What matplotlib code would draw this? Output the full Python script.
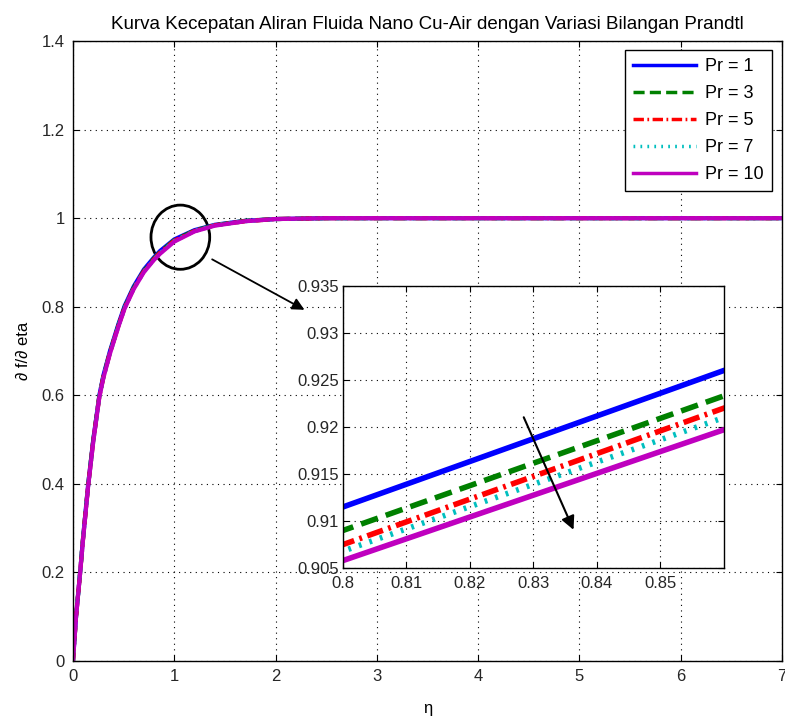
import matplotlib
matplotlib.use("Agg")
import matplotlib.pyplot as plt
from matplotlib.patches import Ellipse

plt.rcParams['font.family'] = ['Liberation Sans', 'DejaVu Sans']

# data
eta = [0.0, 0.03, 0.07, 0.1, 0.15, 0.2, 0.26, 0.3, 0.365, 0.45, 0.51, 0.6, 0.7, 0.8, 0.86,
       1.0, 1.2, 1.4, 1.7, 2.0, 2.5, 3.0, 4.0, 5.0, 6.0, 7.0]
pr_labels = ['Pr = 1', 'Pr = 3', 'Pr = 5', 'Pr = 7', 'Pr = 10']
pr1 = [0.0, 0.10, 0.20, 0.28, 0.40, 0.50, 0.60, 0.645, 0.70, 0.762, 0.802, 0.846, 0.884, 0.9115, 0.9260,
       0.952, 0.973, 0.985, 0.994, 0.998, 1.0, 1.0, 1.0, 1.0, 1.0, 1.0]
pr3 = [0.0, 0.10, 0.199, 0.279, 0.398, 0.498, 0.598, 0.642, 0.697, 0.759, 0.799, 0.843, 0.881, 0.9090, 0.9233,
       0.950, 0.972, 0.984, 0.994, 0.998, 1.0, 1.0, 1.0, 1.0, 1.0, 1.0]
pr5 = [0.0, 0.10, 0.198, 0.278, 0.397, 0.497, 0.597, 0.641, 0.696, 0.758, 0.798, 0.842, 0.880, 0.9075, 0.9220,
       0.949, 0.971, 0.984, 0.993, 0.998, 1.0, 1.0, 1.0, 1.0, 1.0, 1.0]
pr7 = [0.0, 0.10, 0.198, 0.277, 0.396, 0.496, 0.596, 0.640, 0.695, 0.757, 0.797, 0.841, 0.879, 0.9068, 0.9210,
       0.948, 0.971, 0.984, 0.993, 0.998, 1.0, 1.0, 1.0, 1.0, 1.0, 1.0]
pr10 = [0.0, 0.10, 0.197, 0.276, 0.395, 0.495, 0.595, 0.639, 0.694, 0.756, 0.796, 0.840, 0.878, 0.9058, 0.9197,
        0.947, 0.970, 0.983, 0.993, 0.998, 1.0, 1.0, 1.0, 1.0, 1.0, 1.0]
series = [pr1, pr3, pr5, pr7, pr10]
colors = ['#0000ff', '#008000', '#ff0000', '#00bfbf', '#bf00bf']
dash_patterns = [None, (3.2, 1.5), (3, 1, 0.5, 1), (0.5, 1.5), None]

x_ticks = [0, 1, 2, 3, 4, 5, 6, 7]
y_ticks = [0, 0.2, 0.4, 0.6, 0.8, 1, 1.2, 1.4]
y_tick_labels = ['0', '0.2', '0.4', '0.6', '0.8', '1', '1.2', '1.4']
in_x_ticks = [0.8, 0.81, 0.82, 0.83, 0.84, 0.85]
in_y_ticks = [0.905, 0.91, 0.915, 0.92, 0.925, 0.93, 0.935]

fig = plt.figure(figsize=(7.85, 7.2), dpi=100)
ax = fig.add_axes([0.093, 0.082, 0.903, 0.861])


def matlab_style(a, fs):
    a.grid(True, linestyle=(0, (1, 4)), color='black', linewidth=0.8)
    a.tick_params(direction='in', length=4, width=0.8, labelsize=fs, labelcolor='#262626',
                  top=True, right=True, pad=6)
    for s in a.spines.values():
        s.set_linewidth(1.0)


def draw_lines(a, lw, with_labels):
    for ys, c, d, lab in zip(series, colors, dash_patterns, pr_labels):
        ln, = a.plot(eta, ys, color=c, linewidth=lw, label=lab if with_labels else None)
        if d is not None:
            ln.set_dashes(d)


draw_lines(ax, 3, True)
ax.set_xlim(0, 7)
ax.set_ylim(0, 1.4)
ax.set_xticks(x_ticks)
ax.set_yticks(y_ticks)
ax.set_yticklabels(y_tick_labels)
matlab_style(ax, 12)
ax.set_xlabel('η', fontsize=12, labelpad=12)
ax.set_ylabel('∂ f/∂ eta', fontsize=12, labelpad=8)
ax.set_title('Kurva Kecepatan Aliran Fluida Nano Cu-Air dengan Variasi Bilangan Prandtl',
             fontsize=13.5, pad=9)

leg = ax.legend(loc='upper right', bbox_to_anchor=(0.986, 0.9855), fontsize=13,
                fancybox=False, framealpha=1, edgecolor='black', handlelength=3.5,
                labelspacing=0.55, borderpad=0.45, handletextpad=0.5, borderaxespad=0)
leg.get_frame().set_linewidth(1.0)
for h in leg.get_lines():
    h.set_linewidth(2.5)

# zoom marker on main plot
ax.add_patch(Ellipse((1.06, 0.957), 0.58, 0.145, fill=False, edgecolor='black', linewidth=2))
ax.annotate('', xy=(2.31, 0.79), xytext=(1.35, 0.91),
            arrowprops=dict(arrowstyle='-|>', color='black', lw=1.3, mutation_scale=18))

# inset
ins = fig.add_axes([0.437, 0.211, 0.485, 0.392])
draw_lines(ins, 4, False)
ins.set_xlim(0.8, 0.86)
ins.set_ylim(0.905, 0.935)
ins.set_xticks(in_x_ticks)
ins.set_yticks(in_y_ticks)
ins.set_xticklabels([str(v) for v in in_x_ticks])
ins.set_yticklabels([str(v) for v in in_y_ticks])
matlab_style(ins, 12)
ins.tick_params(axis='y', pad=3)
ins.annotate('', xy=(0.8365, 0.9088), xytext=(0.8283, 0.9213),
             arrowprops=dict(arrowstyle='-|>', color='black', lw=1.5, mutation_scale=20))

fig.savefig('out.png', dpi=100, facecolor='white')
